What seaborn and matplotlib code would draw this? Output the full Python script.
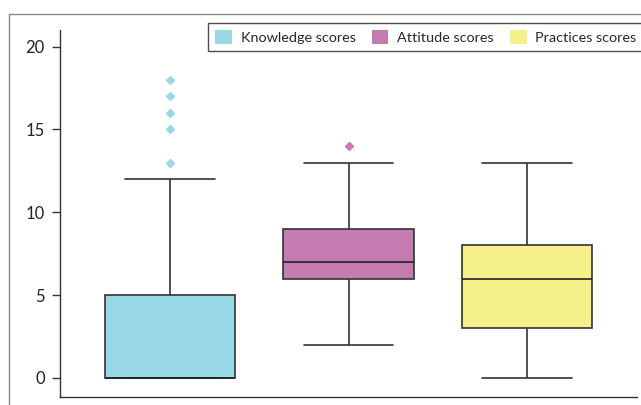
import numpy as np
import pandas as pd
import matplotlib
matplotlib.use("Agg")
import matplotlib.pyplot as plt
from matplotlib.lines import Line2D
import seaborn as sns

# Scores per respondent group
knowledge_scores = [0] * 13 + [1, 2, 3, 4, 5, 5, 12, 13, 15, 16, 17, 18]
attitude_scores = [2, 4, 5, 5, 6, 6, 6, 6, 7, 7, 7, 7, 7, 8, 8, 8, 9, 9, 9, 10, 11, 12, 12, 13, 14]
practices_scores = [0, 1, 2, 2, 3, 3, 3, 4, 5, 5, 6, 6, 6, 7, 7, 7, 8, 8, 8, 9, 10, 11, 12, 12, 13]

labels = ["Knowledge scores", "Attitude scores", "Practices scores"]
colors = ["#99d8e6", "#c57bb0", "#f5f08a"]
y_ticks = [0, 5, 10, 15, 20]

df = pd.DataFrame({
    "group": [labels[0]] * len(knowledge_scores)
    + [labels[1]] * len(attitude_scores)
    + [labels[2]] * len(practices_scores),
    "score": knowledge_scores + attitude_scores + practices_scores,
})

sns.set_style("white")
plt.rcParams["font.family"] = ["Lato", "DejaVu Sans"]

fig = plt.figure(figsize=(6.41, 4.05), dpi=100)
ax = fig.add_axes([60 / 641, 8 / 405, 577 / 641, 367 / 405])

sns.boxplot(data=df, x="group", y="score", hue="group", order=labels,
            hue_order=labels, palette=colors, width=0.73, whis=1.5,
            linecolor="#333333", linewidth=1.2, saturation=1,
            capwidths=0.5, legend=False, ax=ax)

for cont, c in zip(ax.containers, colors):
    for fl in cont.fliers:
        fl.set_marker("D")
        fl.set_markersize(4.5)
        fl.set_markerfacecolor(c)
        fl.set_markeredgecolor(c)
    for m in cont.medians:
        m.set_color("#222222")

ax.set_xlim(-0.616, 2.616)
ax.set_ylim(-1.15, 21)
ax.set_yticks(y_ticks)
ax.set_xticks([])
ax.set_xlabel("")
ax.set_ylabel("")
ax.tick_params(axis="y", left=True, direction="out", length=6, width=1,
               color="#333333", labelsize=12, labelcolor="#222222", pad=5)
for side in ["top", "right"]:
    ax.spines[side].set_visible(False)
for side in ["left", "bottom"]:
    ax.spines[side].set_color("#333333")
    ax.spines[side].set_linewidth(1)

handles = [plt.Rectangle((0, 0), 1, 1, facecolor=c, edgecolor="none") for c in colors]
leg = fig.legend(handles, labels, ncol=3, loc="upper left",
                 bbox_to_anchor=(208 / 641, 1 - 23 / 405), borderaxespad=0,
                 frameon=True, fancybox=False, edgecolor="#222222",
                 fontsize=10.4, handlelength=1.17, handleheight=1.1,
                 columnspacing=1.1, handletextpad=0.6, borderpad=0.5)
leg.get_frame().set_linewidth(1)

# outer frame lines of the original figure
fig.add_artist(Line2D([9 / 641, 9 / 641], [0, 1 - 14 / 405],
                      transform=fig.transFigure, color="#888888", lw=1))
fig.add_artist(Line2D([9 / 641, 1], [1 - 14 / 405, 1 - 14 / 405],
                      transform=fig.transFigure, color="#888888", lw=1))

fig.savefig("out.png", dpi=100)
